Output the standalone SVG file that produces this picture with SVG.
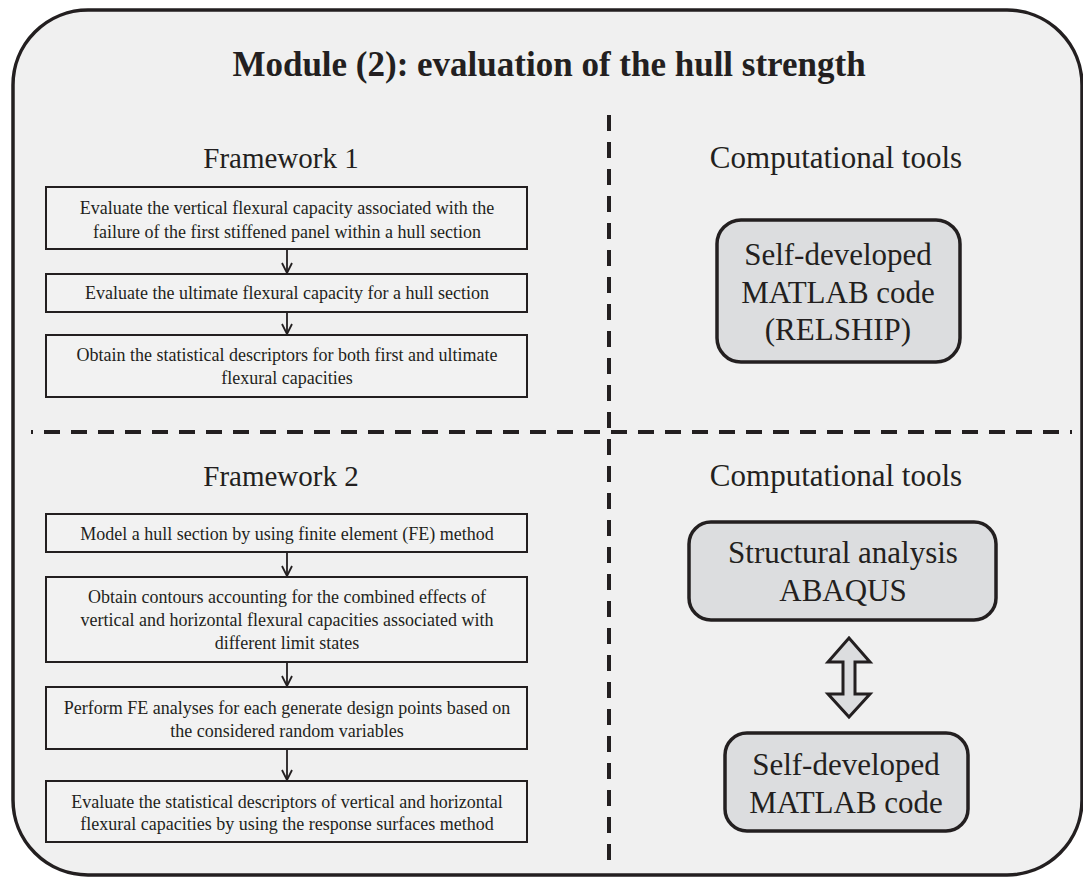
<svg xmlns="http://www.w3.org/2000/svg" width="1083" height="877" viewBox="0 0 1083 877">
<defs>
<style>
.t{font-family:"Liberation Serif","Times New Roman",serif;fill:#231f20;text-anchor:middle}
.s{font-size:18px}
.h{font-size:29px}
.c{font-size:31px}
.box{fill:#f2f2f2;stroke:#231f20;stroke-width:2}
.rb{fill:#dcdddf;stroke:#231f20;stroke-width:3.5}
.dash{stroke:#231f20;stroke-width:4;stroke-dasharray:16 11;fill:none}
.arr{stroke:#231f20;stroke-width:1.8;fill:none;marker-end:url(#ah)}
</style>
<marker id="ah" markerUnits="userSpaceOnUse" markerWidth="14" markerHeight="14" viewBox="0 0 14 14" refX="12" refY="7" orient="auto">
<path d="M2,2 L12,7 L2,12" fill="none" stroke="#231f20" stroke-width="1.8"/>
</marker>
</defs>
<rect width="1083" height="877" fill="#ffffff"/>
<rect id="frame" x="13" y="10" width="1069" height="865" rx="75" ry="75" fill="#f0f0f0" stroke="#231f20" stroke-width="3.5"/>
<text class="t" x="549" y="76" font-size="35" font-weight="bold">Module (2): evaluation of the hull strength</text>
<g id="dividers">
<line class="dash" x1="609" y1="115" x2="609" y2="866"/>
<line class="dash" x1="31" y1="432" x2="1072" y2="432" style="stroke-dashoffset:14"/>
</g>
<text class="t h" x="281" y="168">Framework 1</text>
<text class="t c" x="836" y="168">Computational tools</text>
<text class="t h" x="281" y="486">Framework 2</text>
<text class="t c" x="836" y="486">Computational tools</text>
<g id="f1a"><rect class="box" x="46" y="187" width="481" height="62"/>
<text class="t s" x="287" y="214">Evaluate the vertical flexural capacity associated with the</text>
<text class="t s" x="287" y="238">failure of the first stiffened panel within a hull section</text></g>
<g id="f1b"><rect class="box" x="46" y="274" width="481" height="38"/>
<text class="t s" x="287" y="299">Evaluate the ultimate flexural capacity for a hull section</text></g>
<g id="f1c"><rect class="box" x="46" y="335" width="481" height="62"/>
<text class="t s" x="287" y="361">Obtain the statistical descriptors for both first and ultimate</text>
<text class="t s" x="287" y="384">flexural capacities</text></g>
<g id="f2a"><rect class="box" x="46" y="514" width="481" height="38"/>
<text class="t s" x="287" y="540">Model a hull section by using finite element (FE) method</text></g>
<g id="f2b"><rect class="box" x="46" y="577" width="481" height="85"/>
<text class="t s" x="287" y="603">Obtain contours accounting for the combined effects of</text>
<text class="t s" x="287" y="626">vertical and horizontal flexural capacities associated with</text>
<text class="t s" x="287" y="649">different limit states</text></g>
<g id="f2c"><rect class="box" x="46" y="687" width="481" height="62"/>
<text class="t s" x="287" y="714">Perform FE analyses for each generate design points based on</text>
<text class="t s" x="287" y="737">the considered random variables</text></g>
<g id="f2d"><rect class="box" x="46" y="781" width="481" height="61"/>
<text class="t s" x="287" y="808">Evaluate the statistical descriptors of vertical and horizontal</text>
<text class="t s" x="287" y="830">flexural capacities by using the response surfaces method</text></g>
<g id="relship"><rect class="rb" x="717" y="220" width="243" height="142" rx="24" ry="24"/>
<text class="t c" x="838" y="265">Self-developed</text>
<text class="t c" x="838" y="303">MATLAB code</text>
<text class="t c" x="838" y="340">(RELSHIP)</text></g>
<g id="abaqus"><rect class="rb" x="689" y="522" width="307" height="98" rx="22" ry="22"/>
<text class="t c" x="843" y="563">Structural analysis</text>
<text class="t c" x="843" y="601">ABAQUS</text></g>
<g id="matlab"><rect class="rb" x="725" y="733" width="243" height="98" rx="22" ry="22"/>
<text class="t c" x="846" y="775">Self-developed</text>
<text class="t c" x="846" y="813">MATLAB code</text></g>
<g id="connectors">
<line class="arr" x1="287" y1="249" x2="287" y2="273"/>
<line class="arr" x1="287" y1="312" x2="287" y2="334"/>
<line class="arr" x1="287" y1="552" x2="287" y2="576"/>
<line class="arr" x1="287" y1="662" x2="287" y2="686"/>
<line class="arr" x1="287" y1="749" x2="287" y2="780"/>
<polygon points="849,638 870,662 855,662 855,694 870,694 849,717 828,694 843,694 843,662 828,662" fill="#dcdddf" stroke="#231f20" stroke-width="3" stroke-linejoin="miter"/>
</g>
</svg>
